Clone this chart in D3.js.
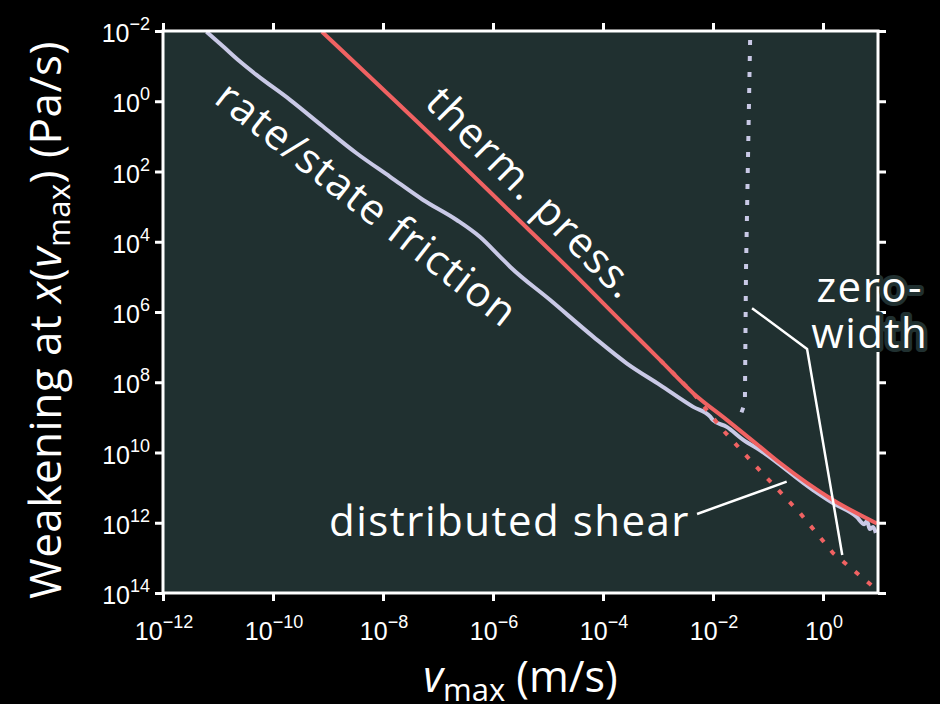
<!DOCTYPE html>
<html>
<head>
<meta charset="utf-8">
<script src="https://cdn.jsdelivr.net/npm/d3@7"></script>
<style>
  body { margin: 0; background: #000; }
  svg { display: block; }
  .lab { font-family: "Open Sans", Lato, sans-serif; fill: #fff; }
  .tick-lab { font-family: "Liberation Sans", Arial, sans-serif; fill: #fff; }
</style>
</head>
<body>
<svg id="chart"></svg>
<script>
// values, as log10(v_max) and log10(weakening)
const rateStateLogV = [-11.21, -10.9, -10.6, -10.3, -9.69, -9.09, -8.48, -7.87, -7.27, -6.66, -6.24, -5.87, -5.69, -4.96, -4.18, -3.57, -2.96, -2.36, -2.05, -2.0, -1.75, -1.45, -1.15, -0.18, 0.18, 0.61, 0.75, 0.8, 0.85, 0.91, 0.96];
const rateStateLogW = [-1.98, -1.55, -1.13, -0.75, -0.04, 0.72, 1.48, 2.15, 2.81, 3.38, 3.86, 4.43, 4.71, 5.66, 6.7, 7.46, 8.08, 8.7, 8.98, 9.08, 9.27, 9.64, 9.93, 11.07, 11.44, 11.83, 12.04, 11.95, 12.18, 12.12, 12.29];

const thermLogV = [-9.11, -6.84, -5.69, -4.6, -3.57, -2.96, -2.36, -1.75, -1.15, -0.78, 0.18, 0.98];
const thermLogW = [-1.98, 1.39, 3.14, 4.8, 6.42, 7.37, 8.31, 9.07, 9.83, 10.3, 11.35, 12.02];

const thermShearLogV = [-2.96, -2.36, -1.82, -1.24, -0.42, 0.18, 0.98];
const thermShearLogW = [7.37, 8.31, 9.36, 10.36, 11.72, 12.86, 13.91];

const zeroWidthLogV = [-1.32, -1.4, -1.42, -1.51, -1.56];
const zeroWidthLogW = [-2.2, 4.8, 8.59, 8.98, 9.1];

const xTicks = [-12, -10, -8, -6, -4, -2, 0];
const yTicks = [-2, 0, 2, 4, 6, 8, 10, 12, 14];

// annotation pointers (data space)
const shearPointerLogV = [-2.29, -0.66];
const shearPointerLogW = [11.75, 10.83];
const zeroPointerLogV = [-1.29, -0.29, 0.35];
const zeroPointerLogW = [5.89, 7.05, 12.92];

const width = 940, height = 704;
const margin = { top: 31, right: 62, bottom: 111, left: 163 };
const innerWidth = width - margin.left - margin.right;
const innerHeight = height - margin.top - margin.bottom;

const toPts = (lv, lw) => lv.map((v, i) => ({ v: Math.pow(10, v), w: Math.pow(10, lw[i]) }));

const svg = d3.select("#chart").attr("width", width).attr("height", height)
  .style("background", "#000");

const g = svg.append("g").attr("transform", `translate(${margin.left},${margin.top})`);

const x = d3.scaleLog().domain([1e-12, 1e1]).range([0, innerWidth]);
const y = d3.scaleLog().domain([1e-2, 1e14]).range([0, innerHeight]);

const plotBg = "#203030";
g.append("rect").attr("width", innerWidth).attr("height", innerHeight).attr("fill", plotBg);

g.append("clipPath").attr("id", "clip").append("rect").attr("width", innerWidth).attr("height", innerHeight);

const line = d3.line().x(d => x(d.v)).y(d => y(d.w));
const smooth = d3.line().x(d => x(d.v)).y(d => y(d.w)).curve(d3.curveMonotoneX);
const curves = g.append("g").attr("clip-path", "url(#clip)");

const lavender = "#c9c9e6", red = "#f06262";

curves.append("path").datum(toPts(rateStateLogV, rateStateLogW))
  .attr("d", smooth).attr("fill", "none").attr("stroke", lavender).attr("stroke-width", 4).attr("stroke-linejoin", "round");
curves.append("path").datum(toPts(zeroWidthLogV, zeroWidthLogW))
  .attr("d", line).attr("fill", "none").attr("stroke", lavender).attr("stroke-width", 4).attr("stroke-dasharray", "5,11");
curves.append("path").datum(toPts(thermShearLogV, thermShearLogW))
  .attr("d", line).attr("fill", "none").attr("stroke", red).attr("stroke-width", 4).attr("stroke-dasharray", "5,11");
curves.append("path").datum(toPts(thermLogV, thermLogW))
  .attr("d", smooth).attr("fill", "none").attr("stroke", red).attr("stroke-width", 4).attr("stroke-linejoin", "round");

// pointer lines
g.append("path").datum(toPts(shearPointerLogV, shearPointerLogW))
  .attr("d", line).attr("fill", "none").attr("stroke", "#fff").attr("stroke-width", 2.5);
g.append("path").datum(toPts(zeroPointerLogV, zeroPointerLogW))
  .attr("d", line).attr("fill", "none").attr("stroke", "#fff").attr("stroke-width", 2.5);

// axes
const tickStyle = sel => {
  sel.select(".domain").remove();
  sel.selectAll(".tick line").attr("stroke", "#fff").attr("stroke-width", 3);
  sel.selectAll(".tick text").remove();
};
const xVals = xTicks.map(e => Math.pow(10, e));
const yVals = yTicks.map(e => Math.pow(10, e));

g.append("g").attr("transform", `translate(0,${innerHeight})`)
  .call(d3.axisBottom(x).tickValues(xVals).tickSize(8).tickSizeOuter(0)).call(tickStyle);
g.append("g").call(d3.axisTop(x).tickValues(xVals).tickSize(8).tickSizeOuter(0)).call(tickStyle);
g.append("g").call(d3.axisLeft(y).tickValues(yVals).tickSize(8).tickSizeOuter(0)).call(tickStyle);
g.append("g").attr("transform", `translate(${innerWidth},0)`)
  .call(d3.axisRight(y).tickValues(yVals).tickSize(8).tickSizeOuter(0)).call(tickStyle);

g.append("rect").attr("width", innerWidth).attr("height", innerHeight)
  .attr("fill", "none").attr("stroke", "#fff").attr("stroke-width", 3);

// tick labels 10^n
const powLabel = (sel, e) => {
  sel.append("tspan").text("10");
  sel.append("tspan").attr("dy", -12).attr("font-size", 18).text(e < 0 ? "\u2212" + (-e) : e);
};
xTicks.forEach(e => {
  g.append("text").attr("class", "tick-lab").attr("x", x(Math.pow(10, e)) + 1).attr("y", innerHeight + 47)
    .attr("font-size", 25).attr("text-anchor", "middle").call(powLabel, e);
});
yTicks.forEach(e => {
  g.append("text").attr("class", "tick-lab").attr("x", -13).attr("y", y(Math.pow(10, e)) + 11)
    .attr("font-size", 25).attr("text-anchor", "end").call(powLabel, e);
});

// axis titles
const xt = svg.append("text").attr("class", "lab").attr("font-size", 43).attr("text-anchor", "middle")
  .attr("x", margin.left + innerWidth / 2).attr("y", 692);
xt.append("tspan").attr("font-style", "italic").text("v");
xt.append("tspan").attr("font-size", 31).attr("dy", 9).text("max");
xt.append("tspan").attr("dy", -9).text(" (m/s)");

const yt = svg.append("text").attr("class", "lab").attr("font-size", 44).attr("letter-spacing", 0.5)
  .attr("text-anchor", "middle")
  .attr("transform", `translate(61,${margin.top + innerHeight / 2 + 8}) rotate(-90)`);
yt.append("tspan").text("Weakening at ");
yt.append("tspan").attr("font-style", "italic").text("x");
yt.append("tspan").text("(");
yt.append("tspan").attr("font-style", "italic").text("v");
yt.append("tspan").attr("font-size", 31).attr("dy", 9).text("max");
yt.append("tspan").attr("dy", -9).text(") (Pa/s)");

// curve labels
const labels = [
  { text: "rate/state friction", lv: -8.33, lw: 3.0, angle: 38 },
  { text: "therm. press.", lv: -5.33, lw: 2.67, angle: 45 },
  { text: "distributed shear", lv: -5.7, lw: 12.38, angle: 0 }
];
labels.forEach(d => {
  const px = x(Math.pow(10, d.lv)), py = y(Math.pow(10, d.lw));
  g.append("text").attr("class", "lab").attr("font-size", 42).attr("letter-spacing", 1.5)
    .attr("text-anchor", "middle")
    .attr("dominant-baseline", d.angle ? "middle" : "auto")
    .attr("transform", `translate(${px},${py}) rotate(${d.angle})`).text(d.text);
});

const zw = svg.append("g").attr("transform", `translate(${margin.left + x(Math.pow(10, 0.85))},0)`);
["zero-", "width"].forEach((t, i) => {
  zw.append("text").attr("class", "lab").attr("font-size", 42).attr("letter-spacing", 1.5)
    .attr("text-anchor", "middle")
    .attr("y", 302 + i * 46).attr("stroke", plotBg).attr("stroke-width", 8)
    .attr("stroke-linejoin", "round").attr("paint-order", "stroke").text(t);
});
</script>
</body>
</html>
